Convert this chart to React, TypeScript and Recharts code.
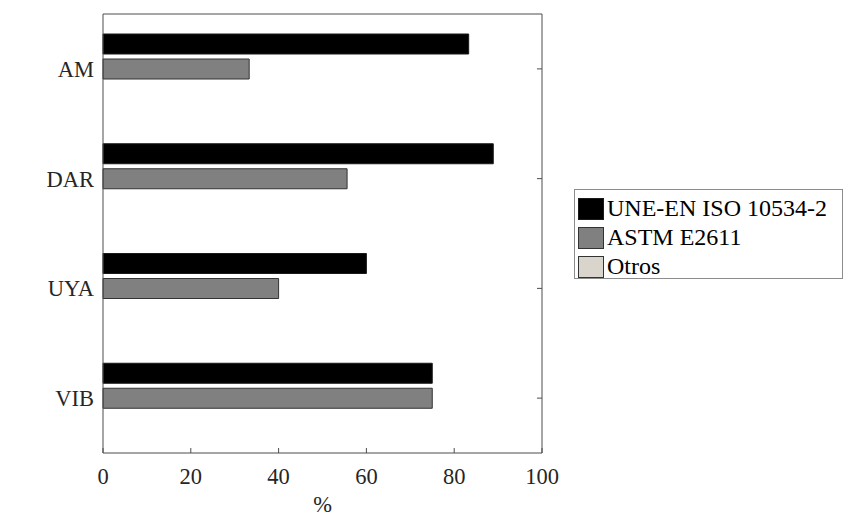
import { BarChart, Bar, XAxis, YAxis, Label } from 'recharts';

const categories = ['AM', 'DAR', 'UYA', 'VIB'];
const uneEnIso = [83.3, 88.9, 60, 75];
const astm = [33.3, 55.6, 40, 75];
const otros = [0, 0, 0, 0];
const xTicks = [0, 20, 40, 60, 80, 100];

const series = [
  { key: 'une', name: 'UNE-EN ISO 10534-2', fill: '#000000', stroke: '#1a1a1a' },
  { key: 'astm', name: 'ASTM E2611', fill: '#808080', stroke: '#333333' },
  { key: 'otros', name: 'Otros', fill: '#d9d4cc', stroke: '#333333' },
];

const data = categories.map((name, i) => ({
  name,
  une: uneEnIso[i],
  astm: astm[i],
  otros: otros[i],
}));

const font = 'Liberation Serif';
const axisColor = '#4d4d4d';
const tickFont = { fontFamily: font, fontSize: 22.5, fill: '#262626' };
const TICK_LEN = 5;

// inward tick + label below, for the bottom axis
function BottomTick(props: any) {
  const { x, y, payload } = props;
  return (
    <g>
      <line x1={x} y1={y} x2={x} y2={y - TICK_LEN} stroke={axisColor} />
      <text x={x} y={y + 31} textAnchor="middle" {...tickFont}>
        {payload.value}
      </text>
    </g>
  );
}

function TopTick(props: any) {
  const { x, y } = props;
  return <line x1={x} y1={y} x2={x} y2={y + TICK_LEN} stroke={axisColor} />;
}

function RightTick(props: any) {
  const { x, y } = props;
  return <line x1={x} y1={y} x2={x - TICK_LEN} y2={y} stroke={axisColor} />;
}

function LegendBox() {
  return (
    <div
      style={{
        position: 'absolute',
        left: 574,
        top: 189,
        width: 267,
        height: 84,
        paddingTop: 4,
        border: '1px solid #8c8c8c',
        background: '#fff',
        fontFamily: font,
        fontSize: 24,
        color: '#000',
      }}
    >
      {series.map((s) => (
        <div key={s.key} style={{ display: 'flex', alignItems: 'center', height: 29, paddingLeft: 3 }}>
          <span
            style={{
              display: 'inline-block',
              width: 24,
              height: 20,
              background: s.fill,
              border: `1px solid ${s.stroke}`,
              marginRight: 3,
            }}
          />
          <span style={{ lineHeight: '29px' }}>{s.name}</span>
        </div>
      ))}
    </div>
  );
}

export default function App() {
  return (
    <div style={{ position: 'absolute', left: 0, top: 0, width: 844, height: 516, background: '#fff' }}>
      <BarChart
        width={844}
        height={516}
        data={data}
        layout="vertical"
        margin={{ top: 13, right: 301, bottom: 0, left: 0 }}
        barCategoryGap={20}
        barGap={5}
      >
        <XAxis
          type="number"
          domain={[0, 100]}
          ticks={xTicks}
          height={63}
          stroke={axisColor}
          tickLine={false}
          tickSize={0}
          tickMargin={0}
          tick={<BottomTick />}
          interval={0}
        >
          <Label value="%" position="insideBottom" offset={4} style={{ ...tickFont }} />
        </XAxis>
        <XAxis
          xAxisId="top"
          orientation="top"
          type="number"
          domain={[0, 100]}
          ticks={xTicks}
          height={1}
          stroke={axisColor}
          tickLine={false}
          tickSize={0}
          tickMargin={0}
          tick={<TopTick />}
          interval={0}
        />
        <YAxis
          type="category"
          dataKey="name"
          width={103}
          stroke={axisColor}
          tickLine={false}
          tickSize={0}
          tickMargin={9}
          tick={tickFont}
        />
        <YAxis
          yAxisId="right"
          orientation="right"
          type="category"
          dataKey="name"
          width={1}
          stroke={axisColor}
          tickLine={false}
          tickSize={0}
          tickMargin={0}
          tick={<RightTick />}
        />
        {series.map((s) => (
          <Bar
            key={s.key}
            dataKey={s.key}
            name={s.name}
            fill={s.fill}
            stroke={s.stroke}
            strokeWidth={1}
            isAnimationActive={false}
          />
        ))}
      </BarChart>
      <LegendBox />
    </div>
  );
}
